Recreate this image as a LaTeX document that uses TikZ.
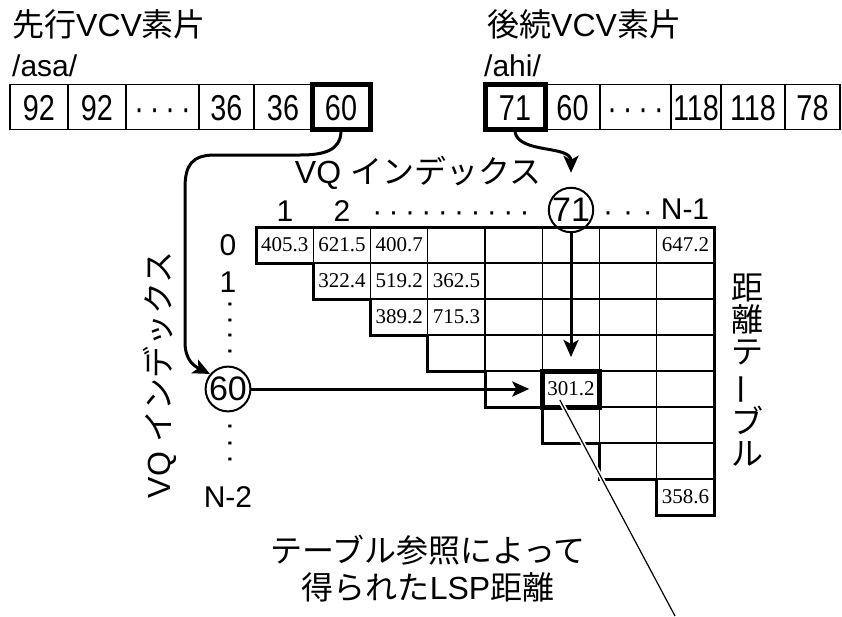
\documentclass[tikz,border=0pt]{standalone}
\usepackage{fontspec}
\setmainfont{Liberation Sans}
\newfontfamily\jpfont{Noto Sans CJK JP}
\newfontfamily\tabfont{Liberation Serif}
\newfontfamily\numfont[FakeStretch=0.8]{Liberation Sans}
\usepackage{graphicx}
\usetikzlibrary{arrows.meta}
\newcommand{\jp}[1]{{\jpfont #1}}
\newcommand{\dotrun}[2]{\foreach \k in {1,...,#1}{\ifnum\k>1\hspace{#2}\fi ·}}

\begin{document}
\begin{tikzpicture}[x=1pt, y=-1pt,
  title/.style={font=\fontsize{32}{37}\selectfont, inner sep=0pt},
  phon/.style={font=\fontsize{30}{36}\selectfont, inner sep=0pt},
  idx/.style={font=\fontsize{30}{36}\selectfont, inner sep=0pt, text height=21.5pt, text depth=0pt},
  seg/.style={draw, line width=1.6pt, minimum height=45pt, inner sep=0pt,
              text height=26pt, text depth=0pt,
              font=\numfont\fontsize{36}{40}\selectfont},
  hot/.style={line width=5pt},
  qv/.style={draw, circle, line width=2pt, inner sep=0pt, minimum size=44pt,
             font=\fontsize{34}{40}\selectfont},
  cell/.style={draw, line width=1.3pt, minimum width=57.25pt, minimum height=36pt,
               inner sep=0pt, outer sep=0pt},
  val/.style={font=\tabfont\fontsize{21}{24}\selectfont, inner sep=0pt},
  flow/.style={-{Stealth[length=17pt,width=15pt,inset=4pt]}, line width=3pt},
  lead/.style={line width=1.2pt, preaction={draw=white, line width=4.5pt}}
]
  \useasboundingbox (0,0) rectangle (842,616);

  % preceding and following segments
  \node[title, anchor=west] (prevt) at (12,24) {\jp{先行}VCV\jp{素片}};
  \node[phon, anchor=west] (prevp) at (12,66) {/asa/};
  \node[seg, minimum width=58pt] (a1) at (39,107)    {92};
  \node[seg, minimum width=58pt] (a2) at (97,107)    {92};
  \node[seg, minimum width=73pt] (a3) at (162.5,107) {\dotrun{4}{6pt}};
  \node[seg, minimum width=55pt] (a4) at (226.5,107) {36};
  \node[seg, minimum width=58pt] (a5) at (283,107)   {36};
  \node[seg, hot, minimum width=58pt] (a6) at (341,107) {60};

  \node[title, anchor=west] (nextt) at (487,24) {\jp{後続}VCV\jp{素片}};
  \node[phon, anchor=west] (nextp) at (484,66) {/ahi/};
  \node[seg, hot, minimum width=60pt] (b1) at (515,107) {71};
  \node[seg, minimum width=55pt] (b2) at (572.5,107) {60};
  \node[seg, minimum width=71pt] (b3) at (635.5,107) {\dotrun{4}{6pt}};
  \node[seg, minimum width=50pt] (b4) at (696,107)   {118};
  \node[seg, minimum width=64pt] (b5) at (753,107)   {118};
  \node[seg, minimum width=55pt] (b6) at (812.5,107) {78};

  % distance table
  \foreach \r in {0,...,7}
    \foreach \c in {\r,...,7}
      \node[cell] (c\r\c) at ({256+57.25*(\c+0.5)}, {227+36*(\r+0.5)}) {};
  \draw[line width=3pt] (714,515) -- (714,227) -- (256,227) -- (256,263)
    \foreach \k in {1,...,7} { -- ++(57.25,0) -- ++(0,36) } -- cycle;
  \draw[line width=5pt] (c45.north west) rectangle (c45.south east);

  \node[val] at (c00) {405.3};
  \node[val] at (c01) {621.5};
  \node[val] at (c02) {400.7};
  \node[val] at (c07) {647.2};
  \node[val] at (c11) {322.4};
  \node[val] at (c12) {519.2};
  \node[val] at (c13) {362.5};
  \node[val] at (c22) {389.2};
  \node[val] at (c23) {715.3};
  \node[val] at (c45) {301.2};
  \node[val] at (c77) {358.6};

  % index labels
  \node[title] (colvq) at (418,173) {VQ \jp{インデックス}};
  \node[idx] (k1) at (285,211) {1};
  \node[idx] (k2) at (342,211) {2};
  \node[idx] (kdots) at (451,211) {\dotrun{10}{6.4pt}};
  \node[qv] (q71) at (571,210) {71};
  \node[idx] (kdots2) at (628,211) {\dotrun{3}{10pt}};
  \node[idx] (kN) at (685,209) {N-1};

  \node[title, rotate=90] (rowvq) at (160,375) {VQ \jp{インデックス}};
  \node[idx] (r0) at (228,245) {0};
  \node[idx] (r1) at (228,282) {1};
  \node[idx, rotate=90] (rdots) at (228,328) {\dotrun{4}{5.4pt}};
  \node[qv] (q60) at (228,389) {60};
  \node[idx, rotate=90] (rdots2) at (228,443) {\dotrun{3}{6.2pt}};
  \node[idx] (rN) at (228,497) {N-2};

  \node[title, align=center, font=\jpfont\fontsize{32}{32.3}\selectfont] (tabname) at (747,370)
       {距\\離\\テ\\\rotatebox[origin=c]{90}{ー}\\ブ\\ル};
  \node[title, align=center, font=\fontsize{32}{37}\selectfont] (result) at (428,569)
       {\jp{テーブル参照によって}\\\jp{得られた}LSP\jp{距離}};

  % lookups
  \draw[flow] (a6.south) .. controls (340,150) and (325,155) .. (300,155) -- (215,155)
    .. controls (192,155) and (185,165) .. (185,188) -- (185,342)
    .. controls (185,360) and (194,366) .. (q60.140);
  \draw[flow, shorten >=14pt] (b1.south) .. controls +(4,22) and +(0,-42) .. (q71.north);
  \draw[flow, shorten >=14pt] (q71.south) -- (q71.south |- c45.north);
  \draw[flow, shorten >=13pt] (q60.east) -- (c45.west);

  \coordinate (tail) at (675,616);
  \draw[lead] ([shift={(-11,11)}]c45.center) -- (tail);
\end{tikzpicture}
\end{document}
